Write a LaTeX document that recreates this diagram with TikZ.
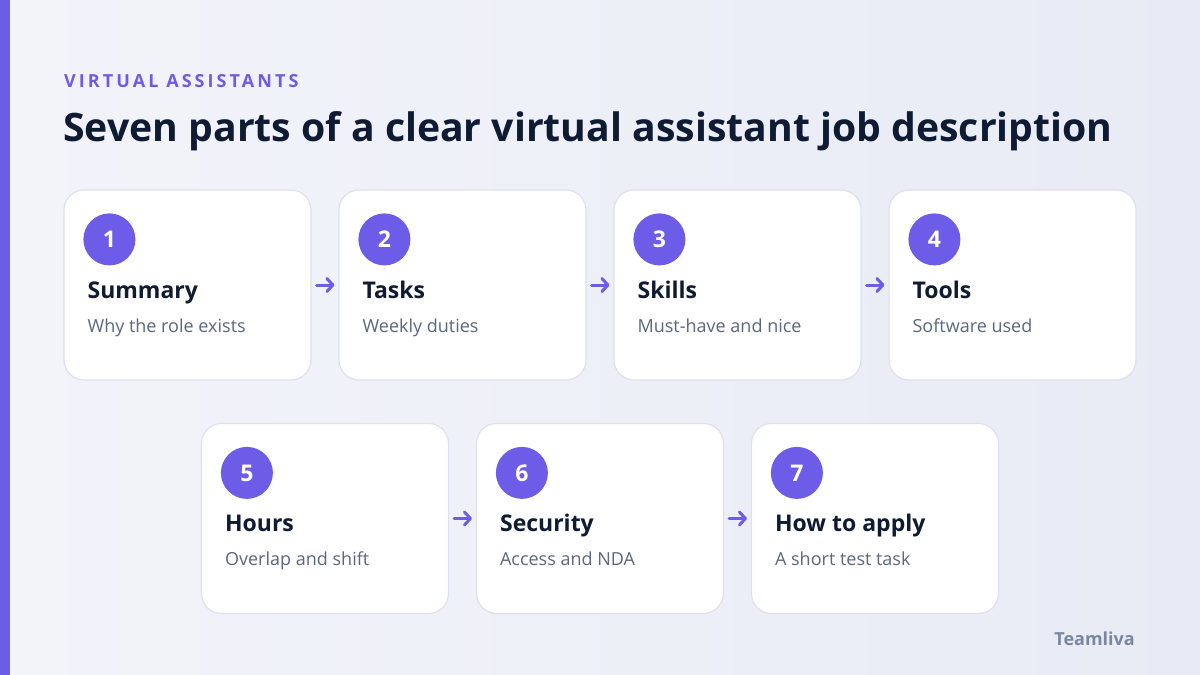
\documentclass[tikz,border=0pt]{standalone}
\usepackage{fontspec}
\setmainfont{Open Sans}
\usetikzlibrary{positioning,arrows.meta,calc}
\definecolor{va-purple}{RGB}{108,92,231}
\definecolor{va-ink}{RGB}{15,27,51}
\definecolor{va-grey}{RGB}{91,103,128}
\definecolor{va-line}{RGB}{221,225,238}
\definecolor{va-bgA}{RGB}{243,244,250}
\definecolor{va-bgB}{RGB}{232,235,245}
\definecolor{va-mark}{RGB}{122,135,159}
\tikzstyle{card}=[draw=va-line,fill=white,rounded corners=20pt,line width=1.2pt,minimum width=247pt,minimum height=190pt]
\tikzstyle{num}=[circle,fill=va-purple,text=white,minimum size=52pt,inner sep=0pt,font=\fontsize{23}{25}\selectfont\bfseries]
\tikzstyle{head}=[anchor=base west,inner sep=0pt,text=va-ink,font=\fontsize{23}{26}\selectfont\bfseries]
\tikzstyle{sub}=[anchor=base west,inner sep=0pt,text=va-grey,font=\fontsize{18}{21}\selectfont]
\tikzstyle{arrow}=[draw=va-purple,line width=3pt,line cap=round,-{Straight Barb[round,length=6pt,width=13pt]},shorten <=5pt,shorten >=4pt]

\begin{document}
\begin{tikzpicture}[x=1pt,y=-1pt]

  % background
  \shade[left color=va-bgA,right color=va-bgB] (0,0) rectangle (1200,675);
  \useasboundingbox (0,0) rectangle (1200,675);
  \fill[va-purple] (0,0) rectangle (10,675);

  \node[anchor=base west,inner sep=0pt,text=va-purple,font=\fontsize{18}{20}\selectfont\bfseries\addfontfeatures{LetterSpace=17}] at (64,87) (kicker) {VIRTUAL ASSISTANTS};
  \node[anchor=base west,inner sep=0pt,text=va-ink,font=\fontsize{39.2}{44}\selectfont\bfseries] at (63,141) (title) {Seven parts of a clear virtual assistant job description};

  % first row
  \node[card] at (187.5,285) (c1) {};
  \node[card] at (462.5,285) (c2) {};
  \node[card] at (737.5,285) (c3) {};
  \node[card] at (1012.5,285) (c4) {};

  % second row
  \node[card] at (325,518.5) (c5) {};
  \node[card] at (600,518.5) (c6) {};
  \node[card] at (875,518.5) (c7) {};

  \node[num] at ($(c1.north west)+(46,50)$) (n1) {1};
  \node[head] at ($(c1.north west)+(24,109)$) (h1) {Summary};
  \node[sub] at ($(c1.north west)+(24,143)$) (s1) {Why the role exists};

  \node[num] at ($(c2.north west)+(46,50)$) (n2) {2};
  \node[head] at ($(c2.north west)+(24,109)$) (h2) {Tasks};
  \node[sub] at ($(c2.north west)+(24,143)$) (s2) {Weekly duties};

  \node[num] at ($(c3.north west)+(46,50)$) (n3) {3};
  \node[head] at ($(c3.north west)+(24,109)$) (h3) {Skills};
  \node[sub] at ($(c3.north west)+(24,143)$) (s3) {Must-have and nice};

  \node[num] at ($(c4.north west)+(46,50)$) (n4) {4};
  \node[head] at ($(c4.north west)+(24,109)$) (h4) {Tools};
  \node[sub] at ($(c4.north west)+(24,143)$) (s4) {Software used};

  \node[num] at ($(c5.north west)+(46,50)$) (n5) {5};
  \node[head] at ($(c5.north west)+(24,109)$) (h5) {Hours};
  \node[sub] at ($(c5.north west)+(24,143)$) (s5) {Overlap and shift};

  \node[num] at ($(c6.north west)+(46,50)$) (n6) {6};
  \node[head] at ($(c6.north west)+(24,109)$) (h6) {Security};
  \node[sub] at ($(c6.north west)+(24,143)$) (s6) {Access and NDA};

  \node[num] at ($(c7.north west)+(46,50)$) (n7) {7};
  \node[head] at ($(c7.north west)+(24,109)$) (h7) {How to apply};
  \node[sub] at ($(c7.north west)+(24,143)$) (s7) {A short test task};

  \draw[arrow] (c1) -- (c2);
  \draw[arrow] (c2) -- (c3);
  \draw[arrow] (c3) -- (c4);
  \draw[arrow] (c5) -- (c6);
  \draw[arrow] (c6) -- (c7);

  \node[anchor=base east,inner sep=0pt,text=va-mark,font=\fontsize{18}{20}\selectfont\bfseries] at (1135,645) (brand) {Teamliva};

\end{tikzpicture}
\end{document}
